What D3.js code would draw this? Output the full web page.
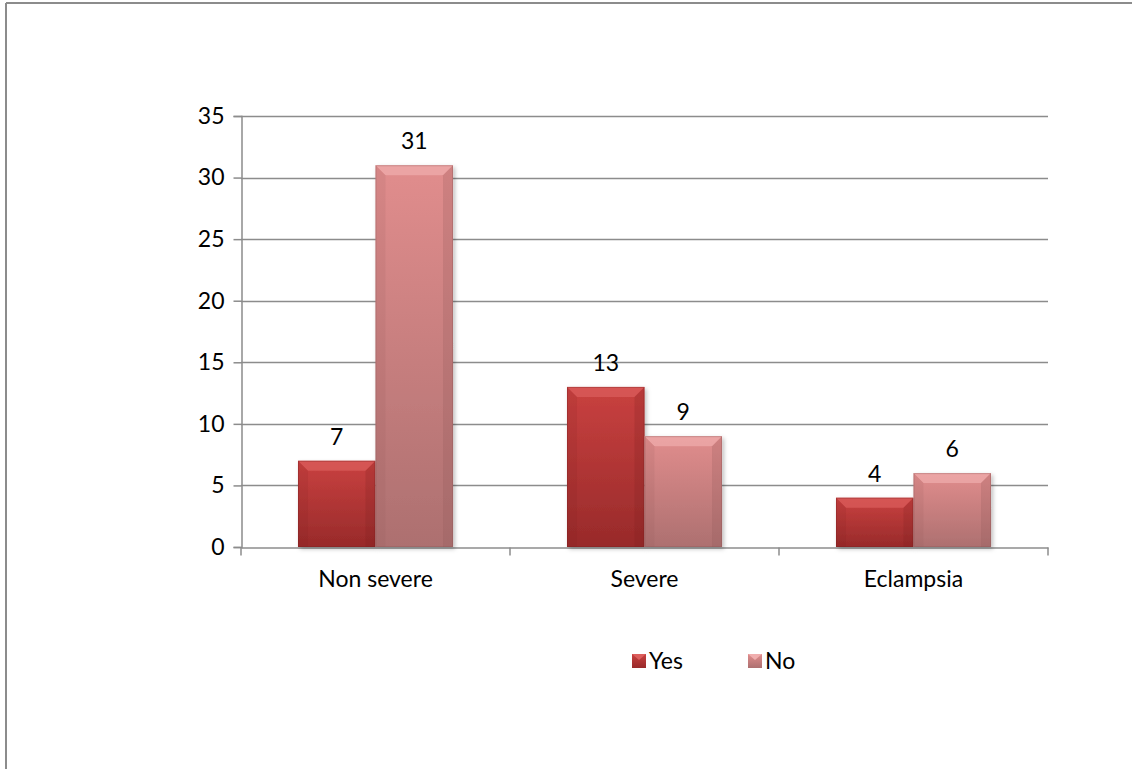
<!DOCTYPE html>
<html>
<head>
<meta charset="utf-8">
<script src="https://cdn.jsdelivr.net/npm/d3@7"></script>
<style>
  body { margin: 0; background: #fff; }
  svg text { font-family: Lato, "Open Sans", sans-serif; fill: #000; }
</style>
</head>
<body>
<div id="chart"></div>
<script>
// chart data
var categories = ['Non severe', 'Severe', 'Eclampsia'];
var seriesNames = ['Yes', 'No'];
var yesValues = [7, 13, 4];
var noValues = [31, 9, 6];
var yTicks = [0, 5, 10, 15, 20, 25, 30, 35];

(function () {
    'use strict';

    var W = 1132, H = 769;
    var FS = '23px';
    var margin = { left: 241, right: 84, top: 116, bottom: 222 };
    var w = W - margin.left - margin.right;
    var h = H - margin.top - margin.bottom;

    var svg = d3.select('#chart').append('svg')
                .attr('width', W).attr('height', H);

    // frame lines (only top and left visible)
    svg.append('line').attr('x1', 6).attr('x2', W).attr('y1', 3).attr('y2', 3)
       .attr('stroke', '#8c8c8c').attr('stroke-width', 2);
    svg.append('line').attr('x1', 6).attr('x2', 6).attr('y1', 3).attr('y2', H)
       .attr('stroke', '#8c8c8c').attr('stroke-width', 2);

    var defs = svg.append('defs');
    var palettes = {
        Yes: { top: '#c94140', bottom: '#982a2a', hi: '#dc5e5c', lo: '#7a1f1f' },
        No:  { top: '#e18d8d', bottom: '#ad7070', hi: '#f0aeae', lo: '#8c5656' }
    };
    seriesNames.forEach(function (s) {
        var p = palettes[s];
        var g = defs.append('linearGradient').attr('id', 'grad' + s)
                    .attr('x1', 0).attr('x2', 0).attr('y1', 0).attr('y2', 1);
        g.append('stop').attr('offset', '0%').attr('stop-color', p.top);
        g.append('stop').attr('offset', '100%').attr('stop-color', p.bottom);
    });
    var sh = defs.append('filter').attr('id', 'shadow')
                 .attr('x', '-10%').attr('y', '-10%').attr('width', '130%').attr('height', '130%');
    sh.append('feDropShadow').attr('dx', 2).attr('dy', 2).attr('stdDeviation', 2)
      .attr('flood-color', '#000').attr('flood-opacity', 0.25);

    var g = svg.append('g').attr('transform', 'translate(' + margin.left + ',' + margin.top + ')');

    var x = d3.scaleBand().domain(categories).range([0, w]).paddingInner(0).paddingOuter(0);
    var x1 = d3.scaleBand().domain(seriesNames).range([0, x.bandwidth()]).paddingInner(0).paddingOuter(0.7352);
    var y = d3.scaleLinear().domain([0, 35]).range([h, 0]);

    // gridlines
    g.append('g').selectAll('line').data(yTicks.filter(function (d) { return d > 0; }))
     .enter().append('line')
     .attr('x1', 0).attr('x2', w)
     .attr('y1', function (d) { return Math.round(y(d)) + 0.5; })
     .attr('y2', function (d) { return Math.round(y(d)) + 0.5; })
     .attr('stroke', '#8c8c8c').attr('stroke-width', 1.5);

    // y axis
    var yAxis = g.append('g').attr('transform', 'translate(0.5,0)')
                 .call(d3.axisLeft(y).tickValues(yTicks).tickSize(8).tickPadding(9));
    yAxis.select('.domain').attr('stroke', '#8c8c8c').attr('stroke-width', 1.5);
    yAxis.selectAll('.tick line').attr('stroke', '#8c8c8c').attr('stroke-width', 1.5);
    yAxis.selectAll('text').style('font-size', FS).style('font-family', 'Lato, sans-serif');

    // x axis
    var xAxis = g.append('g').attr('transform', 'translate(0,' + (Math.round(h) + 0.5) + ')')
                 .call(d3.axisBottom(x).tickSize(0).tickPadding(23));
    xAxis.select('.domain').attr('stroke', '#8c8c8c').attr('stroke-width', 1.5);
    xAxis.selectAll('text').style('font-size', FS).style('font-family', 'Lato, sans-serif');
    var bounds = categories.map(function (c) { return x(c); }).concat([w]);
    xAxis.selectAll('.sep').data(bounds).enter().append('line')
         .attr('x1', function (d) { return d; }).attr('x2', function (d) { return d; })
         .attr('y1', 0).attr('y2', 8)
         .attr('stroke', '#8c8c8c').attr('stroke-width', 1.5);

    // bars
    var rows = [];
    categories.forEach(function (c, i) {
        rows.push({ cat: c, s: 'Yes', v: yesValues[i] });
        rows.push({ cat: c, s: 'No', v: noValues[i] });
    });

    var bars = g.append('g').selectAll('g.bar').data(rows).enter().append('g').attr('class', 'bar');
    bars.each(function (d) {
        var sel = d3.select(this);
        var bx = x(d.cat) + x1(d.s), bw = x1.bandwidth();
        var by = y(d.v), bh = h - y(d.v);
        var p = palettes[d.s];
        var bev = Math.min(10, bh / 2);
        sel.append('rect').attr('x', bx).attr('y', by).attr('width', bw).attr('height', bh)
           .attr('fill', 'url(#grad' + d.s + ')').attr('filter', 'url(#shadow)');
        // bevel top
        sel.append('path')
           .attr('d', 'M' + bx + ',' + by + 'L' + (bx + bw) + ',' + by + 'L' + (bx + bw - bev) + ',' + (by + bev) +
                      'L' + (bx + bev) + ',' + (by + bev) + 'Z')
           .attr('fill', p.hi).attr('opacity', 0.7);
        // bevel left
        sel.append('path')
           .attr('d', 'M' + bx + ',' + by + 'L' + (bx + bev) + ',' + (by + bev) + 'L' + (bx + bev) + ',' + (by + bh) +
                      'L' + bx + ',' + (by + bh) + 'Z')
           .attr('fill', p.lo).attr('opacity', 0.12);
        // bevel right
        sel.append('path')
           .attr('d', 'M' + (bx + bw) + ',' + by + 'L' + (bx + bw - bev) + ',' + (by + bev) + 'L' + (bx + bw - bev) + ',' + (by + bh) +
                      'L' + (bx + bw) + ',' + (by + bh) + 'Z')
           .attr('fill', p.lo).attr('opacity', 0.22);
        // thin outline
        sel.append('rect').attr('x', bx + 0.5).attr('y', by + 0.5).attr('width', bw - 1).attr('height', bh - 1)
           .attr('fill', 'none').attr('stroke', p.lo).attr('stroke-opacity', 0.35);
        // value label
        sel.append('text').attr('x', bx + bw / 2).attr('y', by - 16)
           .attr('text-anchor', 'middle').style('font-size', FS).text(d.v);
    });

    // legend
    var legendX = [632, 748];
    var leg = svg.append('g').selectAll('g').data(seriesNames).enter().append('g')
                 .attr('transform', function (d, i) { return 'translate(' + legendX[i] + ',654)'; });
    leg.append('rect').attr('width', 14).attr('height', 14)
       .attr('fill', function (d) { return 'url(#grad' + d + ')'; });
    leg.append('path').attr('d', 'M0,0L14,0L7,6Z')
       .attr('fill', function (d) { return palettes[d].hi; });
    leg.append('text').attr('x', 17).attr('y', 15).style('font-size', FS)
       .text(function (d) { return d; });
})();
</script>
</body>
</html>
